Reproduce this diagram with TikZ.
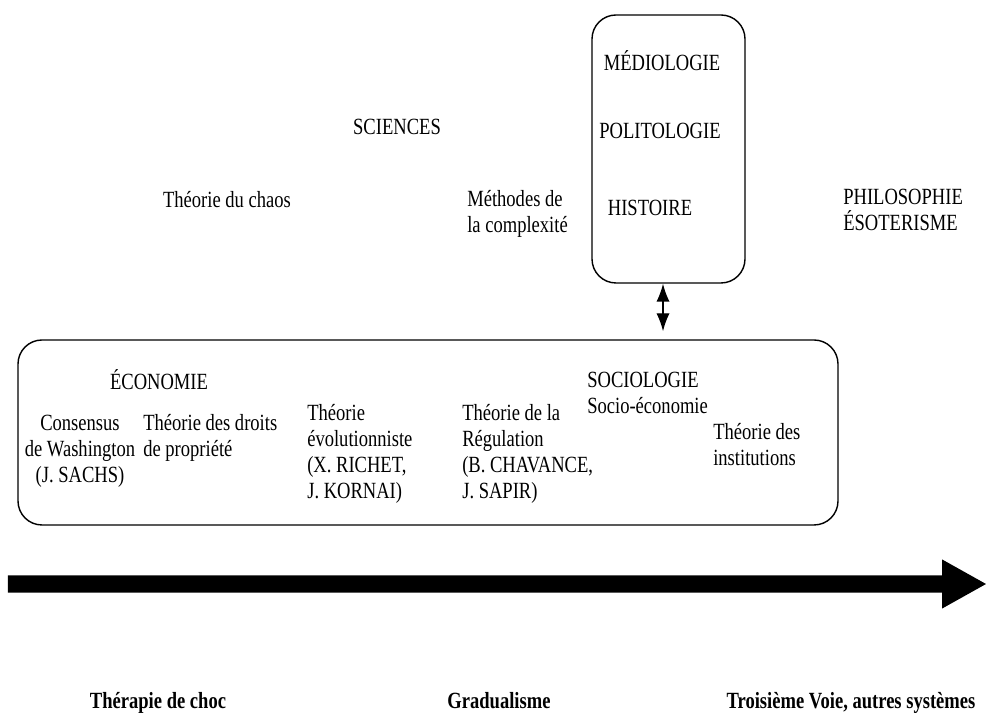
\documentclass[tikz,border=0pt]{standalone}
\usepackage{fontspec}
\setmainfont{Liberation Serif}[FakeStretch=0.8]
\usepackage{tikz}
\usetikzlibrary{arrows.meta, backgrounds}
\pgfdeclarelayer{background}
\pgfsetlayers{background,main}

\begin{document}
\begin{tikzpicture}

    % Text
    \tikzset{lT/.style={inner sep = 0pt, font = \fontsize{16.5pt}{18.5pt}\selectfont}}
    \tikzset{wT/.style={lT, align = left, anchor = west}}
    \tikzset{cT/.style={lT, align = center}}
    \tikzset{bT/.style={lT, anchor = base, font = \fontsize{16.5pt}{18.5pt}\selectfont\bfseries}}

    % Boxes and arrows
    \tikzset{rB/.style={draw, line width = 1pt, rounded corners = 0.6cm, inner sep = 0pt}}
    \tikzset{dA/.style={line width = 1pt, {Latex[length = 0.45cm, width = 0.33cm]}-{Latex[length = 0.45cm, width = 0.33cm]}}}

    \useasboundingbox (0, 0) rectangle (24.65, 17.875);

    % Boxes
    \node (hum) [rB, minimum width = 3.825cm, minimum height = 6.7cm] at (16.7125, 14.15) {};
    \node (soc) [rB, minimum width = 20.5cm, minimum height = 4.625cm] at (10.7, 7.0625) {};
    \coordinate (link) at (16.575, 10);

    % Sciences
    \node (sci) [lT] at ( 9.925, 14.7) {SCIENCES};
    	\node (chaos) [lT] at ( 5.675, 12.875) {Théorie du chaos};
    	\node (cplx) [wT] at (11.675, 12.525) {Méthodes de\\la complexité};

    % Humanities
    \node (medio) [lT] at (16.55, 16.35) {MÉDIOLOGIE};
    \node (polit) [lT] at (16.5, 14.6) {POLITOLOGIE};
    \node (hist) [lT] at (16.25, 12.675) {HISTOIRE};
    \node (philo) [wT] at (21.075, 12.625) {PHILOSOPHIE\\ÉSOTERISME};

    % Economy
    \node (eco) [lT] at ( 3.975, 8.375) {ÉCONOMIE};
    	\node (wash) [cT] at ( 2.0, 6.6) {Consensus\\de Washington\\(J. SACHS)};
    	\node (droits) [wT] at ( 3.575, 6.9375) {Théorie des droits\\de propriété};
    	\node (evol) [wT] at ( 7.675, 6.5375) {Théorie\\évolutionniste\\(X. RICHET,\\J. KORNAI)};
    	\node (regul) [wT] at (11.55, 6.5375) {Théorie de la\\Régulation\\(B. CHAVANCE,\\J. SAPIR)};
    \node (socio) [wT] at (14.675, 8.0625) {SOCIOLOGIE\\Socio-économie};
    	\node (inst) [wT] at (17.825, 6.75) {Théorie des\\institutions};

    % Time axis labels
    \node (choc) [bT] at ( 3.95, 0.17) {Thérapie de choc};
    \node (grad) [bT] at (12.475, 0.17) {Gradualisme};
    \node (voie) [bT] at (21.275, 0.17) {Troisième Voie, autres systèmes};

    % Background image
    \begin{pgfonlayer}{background}

    	% Link between boxes
    	\draw[dA, shorten > = 0.2cm] (hum.south -| link) -- (soc.north -| link);

    	% Time axis
    	\fill (0.2, 3.06) -- (23.55, 3.06) -- (23.55, 2.66) -- (24.65, 3.275)
    		-- (23.55, 3.89) -- (23.55, 3.49) -- (0.2, 3.49) -- cycle;

    \end{pgfonlayer}

\end{tikzpicture}
\end{document}
